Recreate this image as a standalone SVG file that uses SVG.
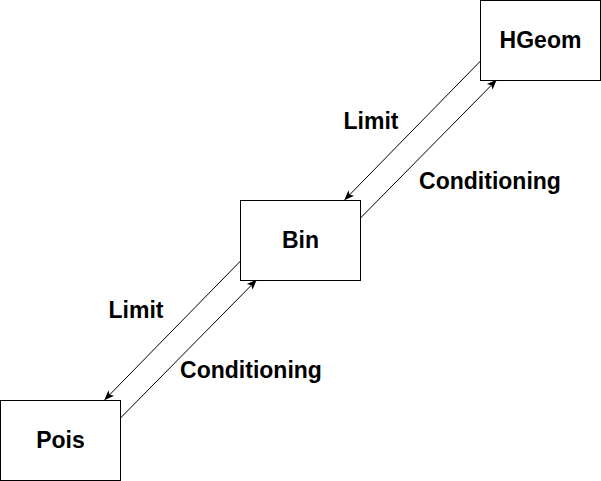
<svg xmlns="http://www.w3.org/2000/svg" width="601" height="481" viewBox="0 0 601 481">
<style>
.box{fill:#fff;stroke:#000;stroke-width:1}
.lbl{font-family:"Liberation Sans",Arial,sans-serif;font-weight:bold;font-size:23px;fill:#000}
.edge{stroke:#000;stroke-width:1;fill:none;marker-end:url(#arr)}
</style>
<defs>
<marker id="arr" viewBox="0 0 10 10" refX="9" refY="5" markerWidth="10" markerHeight="10" markerUnits="userSpaceOnUse" orient="auto">
<path d="M0,1 L10,5 L0,9 L2.5,5 Z" fill="#000"/>
</marker>
</defs>
<rect width="601" height="481" fill="#fff"/>
<g id="hgeom"><rect class="box" x="480.5" y="0.5" width="120" height="80"/><text class="lbl" x="540.5" y="48" text-anchor="middle">HGeom</text></g>
<g id="bin"><rect class="box" x="240.5" y="200.5" width="120" height="80"/><text class="lbl" x="300.5" y="248" text-anchor="middle">Bin</text></g>
<g id="pois"><rect class="box" x="0.5" y="400.5" width="120" height="80"/><text class="lbl" x="60.5" y="448" text-anchor="middle">Pois</text></g>
<g id="connectors">
<line class="edge" x1="480.5" y1="61" x2="345" y2="199.5"/>
<line class="edge" x1="360.5" y1="218" x2="496" y2="80.5"/>
<line class="edge" x1="240.5" y1="261" x2="105" y2="399.5"/>
<line class="edge" x1="120.5" y1="418" x2="256" y2="280.5"/>
<text class="lbl" x="371" y="129" text-anchor="middle">Limit</text>
<text class="lbl" x="490" y="189" text-anchor="middle">Conditioning</text>
<text class="lbl" x="136" y="318" text-anchor="middle">Limit</text>
<text class="lbl" x="251" y="378" text-anchor="middle">Conditioning</text>
</g>
</svg>
